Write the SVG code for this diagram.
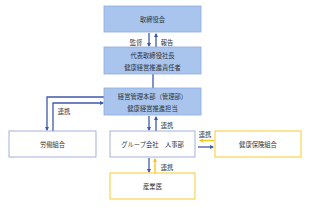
<svg xmlns="http://www.w3.org/2000/svg" width="313" height="210" viewBox="0 0 313 210">
<defs>
<style>
.bf{fill:#a9c5ee;stroke:#8eaadb;stroke-width:0.8}
.wf{fill:#fff;stroke:#8f9fcf;stroke-width:0.8}
.yf{fill:#fff;stroke:#f5c518;stroke-width:0.9}
.t{font-family:"Noto Sans CJK JP","Noto Sans CJK SC",sans-serif;font-size:6.3px;fill:#333;text-anchor:middle;dominant-baseline:central}
.b{fill:none;stroke:#3f5aa8;stroke-width:1.3}
.y{fill:none;stroke:#f5c518;stroke-width:1.3}
</style>
<marker id="ab" markerWidth="4" markerHeight="4" refX="3" refY="2" orient="auto" markerUnits="userSpaceOnUse"><path d="M0,0 L4,2 L0,4 Z" fill="#3f5aa8"/></marker>
<marker id="ay" markerWidth="4" markerHeight="4" refX="3" refY="2" orient="auto" markerUnits="userSpaceOnUse"><path d="M0,0 L4,2 L0,4 Z" fill="#f5c518"/></marker>
</defs>
<g id="connectors">
<path class="b" d="M149,33 V46" marker-end="url(#ab)"/>
<path class="b" d="M156,47 V34" marker-end="url(#ab)"/>
<path class="b" d="M153,74 V88"/>
<path class="b" d="M104,97 H47 V130" marker-end="url(#ab)"/>
<path class="b" d="M53,131 V103 H103" marker-end="url(#ab)"/>
<path class="b" d="M149,116 V130" marker-end="url(#ab)"/>
<path class="b" d="M156,131 V117" marker-end="url(#ab)"/>
<path class="y" d="M214,140.5 H200" marker-end="url(#ay)"/>
<path class="b" d="M198,147 H213" marker-end="url(#ab)"/>
<path class="b" d="M149,158 V172" marker-end="url(#ab)"/>
<path class="y" d="M155,173 V159" marker-end="url(#ay)"/>
<text class="t" x="136" y="42">監督</text>
<text class="t" x="167" y="42">報告</text>
<text class="t" x="64" y="111">連携</text>
<text class="t" x="167" y="125">連携</text>
<text class="t" x="205" y="134">連携</text>
<text class="t" x="167" y="167">連携</text>
</g>
<g id="board"><rect class="bf" x="104" y="6" width="97" height="26"/><text class="t" x="152.5" y="19">取締役会</text></g>
<g id="president"><rect class="bf" x="104" y="47" width="97" height="27"/><text class="t" x="152.5" y="55">代表取締役社長</text><text class="t" x="152.5" y="67.5">健康経営推進責任者</text></g>
<g id="mgmt"><rect class="bf" x="104" y="88" width="97" height="27"/><text class="t" x="152.5" y="96">経営管理本部（管理部）</text><text class="t" x="152.5" y="108">健康経営推進担当</text></g>
<g id="union"><rect class="wf" x="9" y="131" width="87" height="26"/><text class="t" x="52.5" y="144">労働組合</text></g>
<g id="group"><rect class="wf" x="110" y="131" width="85" height="26"/><text class="t" x="152.5" y="144">グループ会社　人事部</text></g>
<g id="insurance"><rect class="yf" x="215" y="131" width="86" height="26"/><text class="t" x="258" y="144">健康保険組合</text></g>
<g id="doctor"><rect class="yf" x="110" y="173" width="85" height="26"/><text class="t" x="152.5" y="186">産業医</text></g>
</svg>
